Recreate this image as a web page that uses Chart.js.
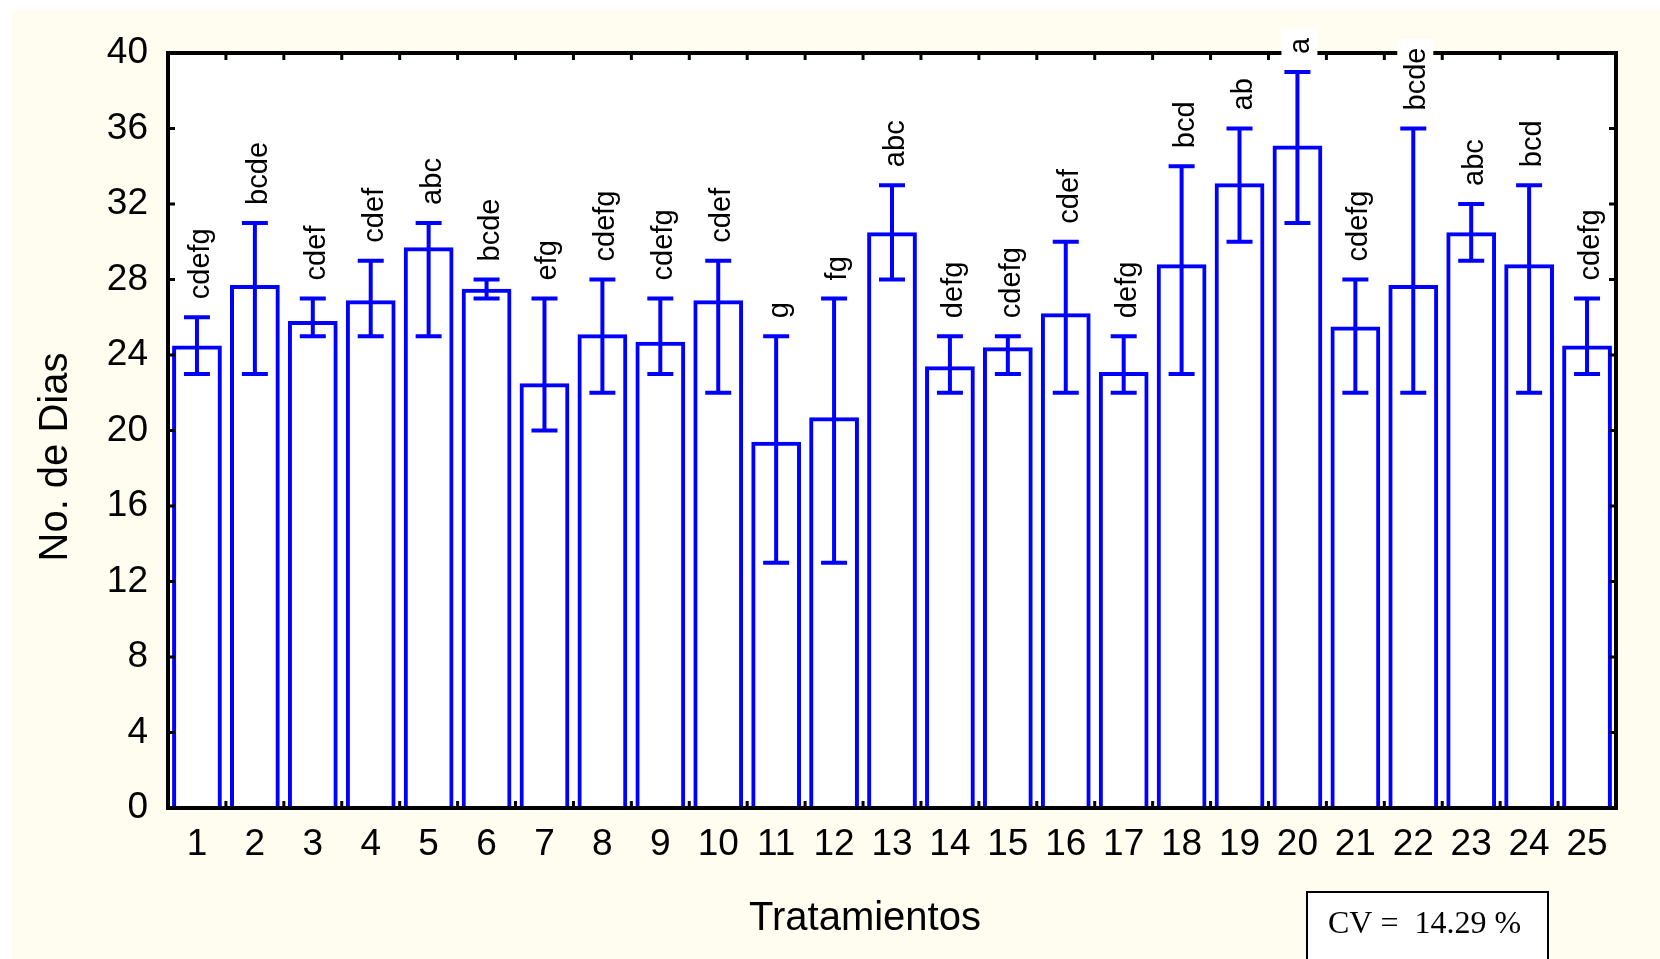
<!DOCTYPE html>
<html>
<head>
<meta charset="utf-8">
<title>No. de Dias por tratamiento</title>
<script src="https://cdn.jsdelivr.net/npm/chart.js@4.4.1/dist/chart.umd.min.js"></script>
<style>
  html, body { margin: 0; padding: 0; background: #ffffff; overflow: hidden; }
  #wrap { width: 1660px; height: 959px; }
</style>
</head>
<body>
<div id="wrap"><canvas id="barChart" width="1660" height="959"></canvas></div>
<script>
// treatments 1..25
const categories = [
  '1', '2', '3', '4', '5', '6', '7', '8', '9', '10', '11', '12', '13',
  '14', '15', '16', '17', '18', '19', '20', '21', '22', '23', '24', '25'
];

// mean number of days
const means = [
  24.4, 27.6, 25.7, 26.8, 29.6, 27.4, 22.4, 25.0, 24.6, 26.8, 19.3, 20.6, 30.4,
  23.3, 24.3, 26.1, 23.0, 28.7, 33.0, 35.0, 25.4, 27.6, 30.4, 28.7, 24.4
];

// error bar ends (min / max)
const errLow = [
  23, 23, 25, 25, 25, 27, 20, 22, 23, 22, 13, 13, 28,
  22, 23, 22, 22, 23, 30, 31, 22, 22, 29, 22, 23
];
const errHigh = [
  26, 31, 27, 29, 31, 28, 27, 28, 27, 29, 25, 27, 33,
  25, 25, 30, 25, 34, 36, 39, 28, 36, 32, 33, 27
];

// Tukey letters above each bar
const letters = [
  'cdefg', 'bcde', 'cdef', 'cdef', 'abc', 'bcde', 'efg', 'cdefg', 'cdefg', 'cdef', 'g', 'fg', 'abc',
  'defg', 'cdefg', 'cdef', 'defg', 'bcd', 'ab', 'a', 'cdefg', 'bcde', 'abc', 'bcd', 'cdefg'
];

const yMin = 0;
const yMax = 40;
const yStep = 4;

const xTitle = 'Tratamientos';
const yTitle = 'No. de Dias';
const cvText = 'CV =  14.29 %';

const sans = '"Liberation Sans", Arial, Helvetica, sans-serif';
const serif = '"Liberation Serif", "Times New Roman", serif';
const blue = '#0000FF';

Chart.defaults.font.family = sans;

// page colours: white strip, cream paper, white plot area
const paperPlugin = {
  id: 'paper',
  beforeDraw(chart) {
    const ctx = chart.ctx;
    const a = chart.chartArea;
    ctx.save();
    ctx.fillStyle = '#ffffff';
    ctx.fillRect(0, 0, chart.width, chart.height);
    ctx.fillStyle = '#FFFCF0';
    ctx.fillRect(12, 10, chart.width - 12, chart.height - 10);
    ctx.fillStyle = '#ffffff';
    ctx.fillRect(a.left, a.top, a.right - a.left, a.bottom - a.top);
    ctx.restore();
  }
};

// min-max whiskers
const errorBarPlugin = {
  id: 'errorBars',
  afterDatasetsDraw(chart) {
    const ctx = chart.ctx;
    const xs = chart.scales.x;
    const ys = chart.scales.y;
    ctx.save();
    ctx.strokeStyle = blue;
    ctx.lineWidth = 4;
    categories.forEach((c, i) => {
      const cx = xs.getPixelForValue(i);
      const top = ys.getPixelForValue(errHigh[i]);
      const bot = ys.getPixelForValue(errLow[i]);
      ctx.beginPath();
      ctx.moveTo(cx, top); ctx.lineTo(cx, bot);
      ctx.moveTo(cx - 13, top); ctx.lineTo(cx + 13, top);
      ctx.moveTo(cx - 13, bot); ctx.lineTo(cx + 13, bot);
      ctx.stroke();
    });
    ctx.restore();
  }
};

// frame with inner ticks, letters, axis titles and the CV box
const decorPlugin = {
  id: 'decor',
  afterDraw(chart) {
    const ctx = chart.ctx;
    const a = chart.chartArea;
    const xs = chart.scales.x;
    const ys = chart.scales.y;
    ctx.save();

    // frame
    ctx.strokeStyle = '#000';
    ctx.lineWidth = 4;
    ctx.strokeRect(a.left, a.top, a.right - a.left, a.bottom - a.top);

    // inner ticks
    ctx.lineWidth = 3;
    ctx.beginPath();
    for (let v = yMin; v <= yMax; v += yStep) {
      const py = ys.getPixelForValue(v);
      ctx.moveTo(a.left, py); ctx.lineTo(a.left + 7, py);
      ctx.moveTo(a.right, py); ctx.lineTo(a.right - 7, py);
    }
    for (let i = 1; i < categories.length; i++) {
      const bx = (xs.getPixelForValue(i - 1) + xs.getPixelForValue(i)) / 2;
      ctx.moveTo(bx, a.top); ctx.lineTo(bx, a.top + 7);
      ctx.moveTo(bx, a.bottom); ctx.lineTo(bx, a.bottom - 7);
    }
    ctx.stroke();

    // letters, rotated, on a white patch
    ctx.font = '29px ' + sans;
    letters.forEach((txt, i) => {
      const cx = xs.getPixelForValue(i);
      const ty = ys.getPixelForValue(errHigh[i]) - 18;
      const w = ctx.measureText(txt).width;
      ctx.save();
      ctx.translate(cx + 12, ty);
      ctx.rotate(-Math.PI / 2);
      ctx.fillStyle = '#ffffff';
      ctx.fillRect(-3, -28, w + 12, 36);
      ctx.fillStyle = '#000';
      ctx.textAlign = 'left';
      ctx.textBaseline = 'alphabetic';
      ctx.fillText(txt, 0, 0);
      ctx.restore();
    });

    // axis titles
    ctx.fillStyle = '#000';
    ctx.font = '40px ' + sans;
    ctx.textAlign = 'center';
    ctx.textBaseline = 'alphabetic';
    ctx.fillText(xTitle, 865, 930);
    ctx.save();
    ctx.translate(67, 457);
    ctx.rotate(-Math.PI / 2);
    ctx.fillText(yTitle, 0, 0);
    ctx.restore();

    // CV box
    ctx.fillStyle = '#ffffff';
    ctx.fillRect(1307, 892, 241, 80);
    ctx.strokeStyle = '#000';
    ctx.lineWidth = 2;
    ctx.strokeRect(1307, 892, 241, 80);
    ctx.fillStyle = '#000';
    ctx.font = '32px ' + serif;
    ctx.textAlign = 'left';
    ctx.fillText(cvText, 1328, 933);

    ctx.restore();
  }
};

window.onload = function() {
  const ctx = document.getElementById('barChart').getContext('2d');

  const barChart = new Chart(ctx, {
    type: 'bar',
    data: {
      labels: categories,
      datasets: [
        {
          label: yTitle,
          data: means,
          backgroundColor: '#ffffff',
          borderColor: blue,
          borderWidth: 4,
          inflateAmount: 2, // keeps the outline centred on the value
          barPercentage: 0.79,
          categoryPercentage: 1.0
        }
      ]
    },
    options: {
      responsive: false,
      animation: false,
      devicePixelRatio: 1,
      layout: {
        padding: { left: 0, top: 53, right: 44, bottom: 0 }
      },
      plugins: {
        legend: { display: false },
        tooltip: { enabled: false }
      },
      scales: {
        x: {
          grid: { display: false, drawTicks: false },
          border: { display: false },
          ticks: {
            color: '#000',
            font: { size: 37 },
            padding: 15,
            maxRotation: 0,
            autoSkip: false
          },
          afterFit(scale) { scale.height = 151; }
        },
        y: {
          min: yMin,
          max: yMax,
          grid: { display: false, drawTicks: false },
          border: { display: false },
          ticks: {
            stepSize: yStep,
            color: '#000',
            font: { size: 37 },
            padding: 20
          },
          afterFit(scale) { scale.width = 168; }
        }
      }
    },
    plugins: [paperPlugin, errorBarPlugin, decorPlugin]
  });
};
</script>
</body>
</html>
